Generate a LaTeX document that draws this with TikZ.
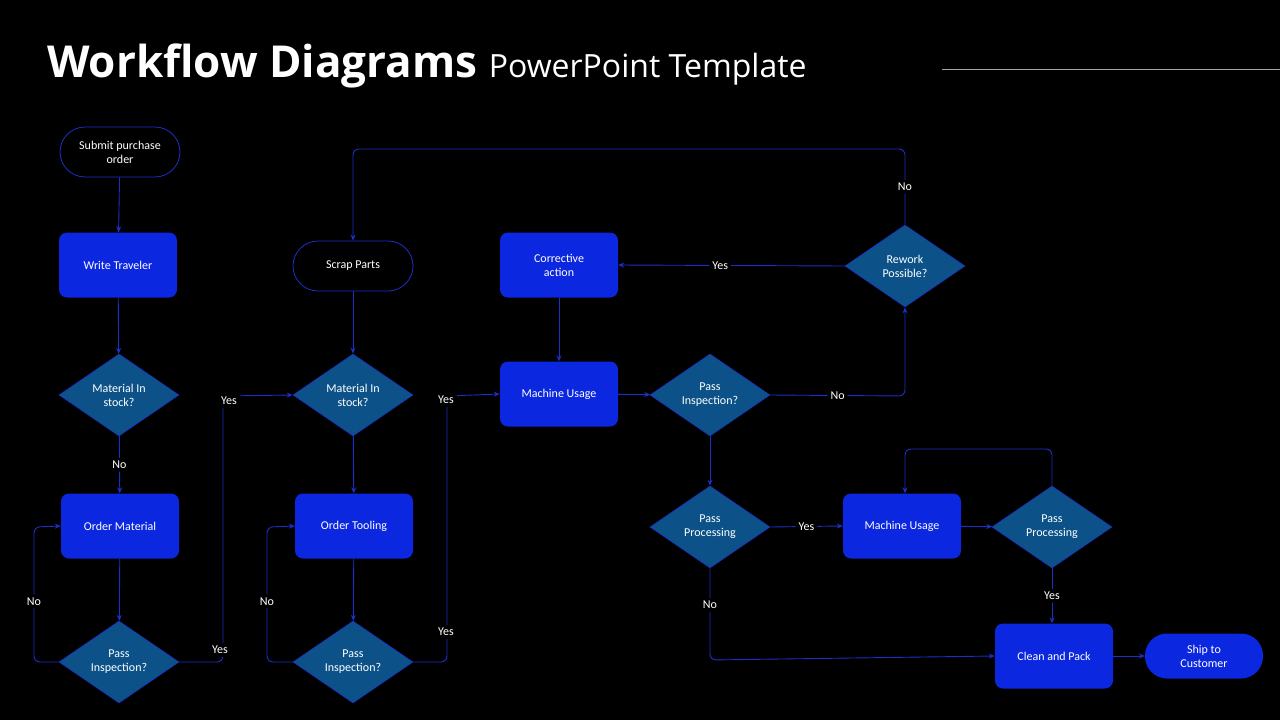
\documentclass[tikz,border=0pt]{standalone}
\usepackage{fontspec}
\setmainfont{Carlito}
\newfontfamily\titlefont{Open Sans}
\usetikzlibrary{shapes.geometric,arrows.meta}
\definecolor{boxblue}{HTML}{0B27E0}
\definecolor{diablue}{HTML}{0C5288}
\definecolor{linkblue}{HTML}{1C2FC8}
\begin{document}
\begin{tikzpicture}[x=1pt,y=-1pt,
  every node/.style={font=\fontsize{12}{14}\selectfont, text=white, align=center},
  box/.style={draw=none, fill=boxblue, rounded corners=8pt, minimum width=118pt, minimum height=65pt},
  term/.style={draw=linkblue, fill=black, rounded corners=25pt, minimum width=120pt, minimum height=50pt, line width=0.8pt},
  dia/.style={diamond, fill=diablue, draw=linkblue, line width=0.6pt, aspect=1.46, minimum width=120pt, minimum height=82pt, inner sep=0pt},
  lk/.style={draw=linkblue, line width=0.9pt, -{Stealth[length=6pt,width=5pt]}, rounded corners=6pt},
  lb/.style={fill=black, inner sep=3pt}]
\fill (0,0) rectangle (1280,720);
\useasboundingbox (0,0) rectangle (1280,720);
\node[anchor=base west, inner sep=0] (title) at (47,77) {\titlefont\fontsize{44}{50}\selectfont\bfseries Workflow Diagrams \fontsize{32}{36}\selectfont\mdseries PowerPoint Template};
\coordinate (r1) at (942,69); \coordinate (r2) at (1280,69);
\draw[gray!70, line width=0.8pt] (r1) -- (r2);

\node[term] (submit) at (120,152) {Submit purchase\\order};
\node[box] (write) at (118,265) {Write Traveler};
\node[dia] (mis1) at (119,395) {Material In\\stock?};
\node[box] (om) at (120,526) {Order Material};
\node[dia] (p1) at (119,662) {Pass\\Inspection?};
\node[term] (scrap) at (353,266) {Scrap Parts};
\node[dia] (mis2) at (353,395) {Material In\\stock?};
\node[box] (ot) at (354,526) {Order Tooling};
\node[dia] (p2) at (353,662) {Pass\\Inspection?};
\node[box] (corr) at (559,265) {Corrective\\action};
\node[box] (mu1) at (559,394) {Machine Usage};
\node[dia] (pi) at (710,395) {Pass\\Inspection?};
\node[dia] (rw) at (905,266) {Rework\\Possible?};
\node[dia] (pp1) at (710,527) {Pass\\Processing};
\node[box] (mu2) at (902,526) {Machine Usage};
\node[dia] (pp2) at (1052,527) {Pass\\Processing};
\node[box] (clean) at (1054,656) {Clean and Pack};
\node[draw=none, fill=boxblue, rounded corners=22pt, minimum width=118pt, minimum height=45pt] (ship) at (1204,656) {Ship to\\Customer};

\draw[lk] (submit) -- (write);
\draw[lk] (write) -- (mis1);
\draw[lk] (mis1) -- node[lb]{No} (om);
\draw[lk] (om) -- (p1);
\draw[lk] (p1.west) -- (34,662) -- node[lb,pos=0.45]{No} (34,527) -- (om.west);
\draw[lk] (p1.east) -- (223,662) -- (223,396) -- (mis2.west);
\node[lb] (y1) at (220,650) {Yes};
\node[lb] (y2) at (229,401) {Yes};
\draw[lk] (scrap) -- (mis2);
\draw[lk] (mis2) -- (ot);
\draw[lk] (ot) -- (p2);
\draw[lk] (p2.west) -- (267,662) -- node[lb,pos=0.45]{No} (267,527) -- (ot.west);
\draw[lk] (p2.east) -- (447,662) -- (447,396) -- (mu1.west);
\node[lb] (y3) at (446,632) {Yes};
\node[lb] (y4) at (446,400) {Yes};
\draw[lk] (corr) -- (mu1);
\draw[lk] (mu1) -- (pi);
\draw[lk] (pi.east) -- node[lb,pos=0.5]{No} (905,396) -- (rw.south);
\draw[lk] (rw.west) -- node[lb,pos=0.55]{Yes} (corr.east);
\draw[lk] (rw.north) -- node[lb,pos=0.5]{No} (905,149) -- (353,149) -- (scrap.north);
\draw[lk] (pi) -- (pp1);
\draw[lk] (pp1.east) -- node[lb]{Yes} (mu2.west);
\draw[lk] (mu2) -- (pp2);
\draw[lk] (pp2.north) -- (1052,449) -- (905,449) -- (mu2.north -| 905,0);
\draw[lk] (pp2.south) -- node[lb]{Yes} (clean.north -| pp2.south);
\draw[lk] (pp1.south) -- node[lb,pos=0.4]{No} (710,660) -- (clean.west);
\draw[lk] (clean) -- (ship);
\end{tikzpicture}
\end{document}
